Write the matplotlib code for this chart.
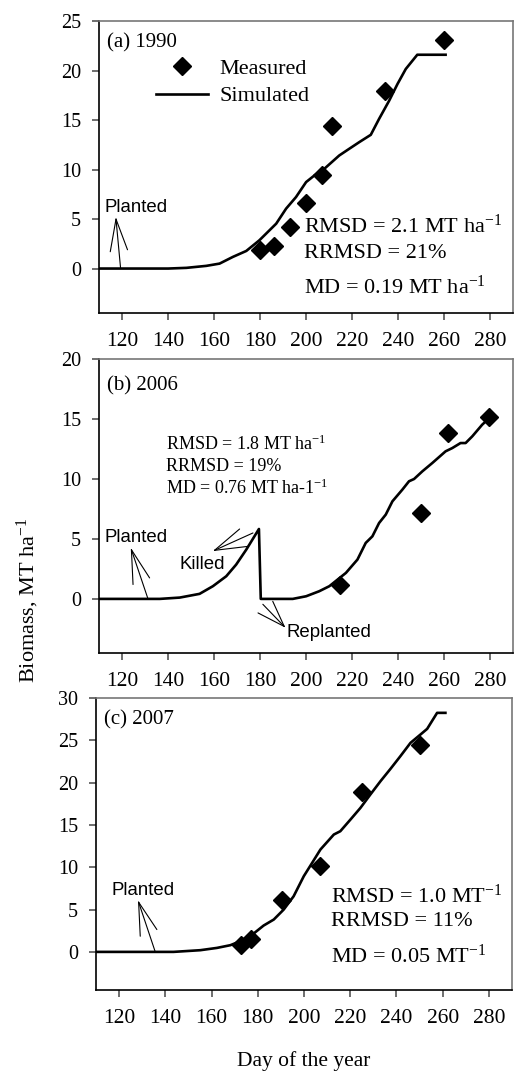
import matplotlib
matplotlib.use("Agg")
import matplotlib.pyplot as plt

plt.rcParams["font.family"] = ["Liberation Serif", "DejaVu Serif"]
plt.rcParams["mathtext.fontset"] = "custom"
plt.rcParams["mathtext.rm"] = "Liberation Serif"
plt.rcParams["mathtext.it"] = "Liberation Serif:italic"

# (a) 1990
meas_day_a = [180, 186, 193, 200, 207, 211, 234, 260]
meas_bio_a = [1.92, 2.29, 4.17, 6.66, 9.42, 14.4, 17.93, 23.1]
sim_day_a = [110, 140, 147.9, 156.5, 162.3, 168.1, 173.9, 179.6, 186.9, 191.2, 195.5,
             199.9, 203.5, 207.8, 214.3, 218.6, 223, 228, 231.6, 236, 239.6, 243.2,
             248.2, 260.5]
sim_bio_a = [0, 0, 0.07, 0.27, 0.5, 1.18, 1.78, 2.86, 4.54, 6.06, 7.23,
             8.75, 9.42, 10.09, 11.44, 12.11, 12.79, 13.53, 15.14, 16.99, 18.67, 20.19,
             21.63, 21.63]

# (b) 2006
meas_day_b = [214.5, 249.8, 261.5, 279.5]
meas_bio_b = [1.17, 7.17, 13.83, 15.17]
sim_day_b = [110, 136.3, 145, 153.6, 159.4, 165.2, 169.5, 173.9, 179.4, 180.2, 194.1,
             199.9, 205.6, 210, 217.2, 222.2, 225.8, 228.7, 231.6, 234.5, 237.4, 241.7,
             244.6, 246.8, 250.4, 254.7, 260.5, 263.4, 267, 269.2, 272.1, 276.4, 280]
sim_bio_b = [0, 0, 0.11, 0.42, 1.06, 1.89, 2.86, 4.11, 5.83, 0, 0,
             0.22, 0.64, 1.06, 2.17, 3.28, 4.67, 5.22, 6.33, 7.03, 8.14, 9.11,
             9.81, 10.0, 10.64, 11.33, 12.31, 12.58, 13.0, 13.0, 13.56, 14.53, 15.17]

# (c) 2007
meas_day_c = [172.9, 177.0, 190.5, 206.8, 225.1, 250.1]
meas_bio_c = [0.87, 1.57, 6.18, 10.2, 18.9, 24.49]
sim_day_c = [110, 143.5, 155.1, 162.3, 168.1, 172.4, 178.2, 182.5, 186.9, 191.2, 195.5,
             199.9, 203.5, 207.1, 212.9, 215.7, 220.1, 224.4, 228.7, 233.1, 237.4, 241.7,
             246.1, 250.4, 253.3, 257.6, 261.2]
sim_bio_c = [0, 0, 0.2, 0.47, 0.79, 1.26, 2.17, 3.11, 3.82, 5.0, 6.57,
             8.94, 10.51, 12.09, 13.86, 14.25, 15.63, 17.0, 18.58, 20.16, 21.61, 23.11,
             24.69, 25.67, 26.34, 28.23, 28.23]

x_ticks = [120, 140, 160, 180, 200, 220, 240, 260, 280]

fig = plt.figure(figsize=(5.14, 10.72), dpi=100)
ax_a = fig.add_axes([0.193, 0.708, 0.806, 0.272])
ax_b = fig.add_axes([0.193, 0.391, 0.806, 0.274])
ax_c = fig.add_axes([0.187, 0.0765, 0.809, 0.2725])

sans = ["Liberation Sans", "DejaVu Sans"]
sans_size = 13.4


def style(ax, ymax, ystep):
    ax.set_xlim(110, 290)
    ax.set_ylim(-4.5, ymax)
    ax.set_xticks(x_ticks)
    ax.set_yticks(list(range(0, ymax + 1, ystep)))
    ax.tick_params(direction="out", length=5, width=1.2, color="#555555")
    ax.tick_params(axis="y", labelsize=14.5, pad=8)
    ax.tick_params(axis="x", labelsize=15.5, pad=9)
    ax.spines["left"].set_color("black")
    ax.spines["bottom"].set_color("black")
    ax.spines["top"].set_color("#777777")
    ax.spines["right"].set_color("#777777")
    for s in ax.spines.values():
        s.set_linewidth(1.2)


def arrows(ax, apex, ends):
    for e in ends:
        ax.annotate("", xy=e, xytext=apex,
                    arrowprops=dict(arrowstyle="-", color="black", lw=0.8,
                                    shrinkA=0, shrinkB=0))


# panel a
ax_a.plot(sim_day_a, sim_bio_a, color="black", lw=1.9, label="Simulated", zorder=2)
ax_a.plot(meas_day_a, meas_bio_a, "D", color="black", ms=9.5, label="Measured", zorder=3)
style(ax_a, 25, 5)
ax_a.text(0.02, 0.925, "(a) 1990", transform=ax_a.transAxes, fontsize=15, va="center")
h, l = ax_a.get_legend_handles_labels()
ax_a.legend([h[1], h[0]], [l[1], l[0]], loc="upper left", bbox_to_anchor=(0.09, 0.943),
            frameon=False, fontsize=16, handlelength=2.3, handletextpad=0.55,
            labelspacing=0.32, numpoints=1)
ax_a.text(112.5, 6.2, "Planted", fontfamily=sans, fontsize=sans_size, va="center")
arrows(ax_a, (117.3, 5.0), [(114.8, 1.7), (122.3, 1.9), (119.3, 0)])
ax_a.text(199, 4.3, "RMSD = 2.1 MT ha$^{-1}$", fontsize=16, va="center")
ax_a.text(199, 1.5, "RRMSD = 21%", fontsize=16, va="center")
ax_a.text(199, -1.9, "MD = 0.19 MT ha$^{-1}$", fontsize=16, va="center")

# panel b
ax_b.plot(sim_day_b, sim_bio_b, color="black", lw=1.9, zorder=2)
ax_b.plot(meas_day_b, meas_bio_b, "D", color="black", ms=9.5, zorder=3)
style(ax_b, 20, 5)
ax_b.text(0.02, 0.91, "(b) 2006", transform=ax_b.transAxes, fontsize=15, va="center")
ax_b.text(112.5, 5.1, "Planted", fontfamily=sans, fontsize=sans_size, va="center")
arrows(ax_b, (124.0, 4.1), [(124.7, 1.2), (131.9, 1.75), (131.2, 0)])
ax_b.text(145, 2.9, "Killed", fontfamily=sans, fontsize=sans_size, va="center")
arrows(ax_b, (160.1, 4.05), [(171.0, 5.83), (176.8, 5.5), (174.6, 4.38)])
ax_b.text(191.5, -2.8, "Replanted", fontfamily=sans, fontsize=sans_size, va="center")
arrows(ax_b, (190.4, -2.3), [(181.1, -0.45), (179.0, -1.17), (185.4, -0.2)])
ax_b.text(139, 12.9, "RMSD = 1.8 MT ha$^{-1}$", fontsize=13, va="center")
ax_b.text(139, 11.05, "RRMSD = 19%", fontsize=13, va="center")
ax_b.text(139, 9.25, "MD = 0.76 MT ha-1$^{-1}$", fontsize=13, va="center")

# panel c
ax_c.plot(sim_day_c, sim_bio_c, color="black", lw=1.9, zorder=2)
ax_c.plot(meas_day_c, meas_bio_c, "D", color="black", ms=9.5, zorder=3)
style(ax_c, 30, 5)
ax_c.text(0.02, 0.925, "(c) 2007", transform=ax_c.transAxes, fontsize=15, va="center")
ax_c.text(116.8, 7.3, "Planted", fontfamily=sans, fontsize=sans_size, va="center")
arrows(ax_c, (128.4, 5.87), [(129.1, 1.85), (136.3, 2.64), (135.6, 0)])
ax_c.text(211.8, 6.6, "RMSD = 1.0 MT$^{-1}$", fontsize=16, va="center")
ax_c.text(211.8, 3.55, "RRMSD = 11%", fontsize=16, va="center")
ax_c.text(211.8, -0.55, "MD = 0.05 MT$^{-1}$", fontsize=16, va="center")
ax_c.set_xlabel("Day of the year", fontsize=15.5, labelpad=16)

fig.text(0.055, 0.44, "Biomass, MT ha$^{-1}$", rotation=90, fontsize=16,
         ha="center", va="center")

fig.savefig("out.png", dpi=100)
